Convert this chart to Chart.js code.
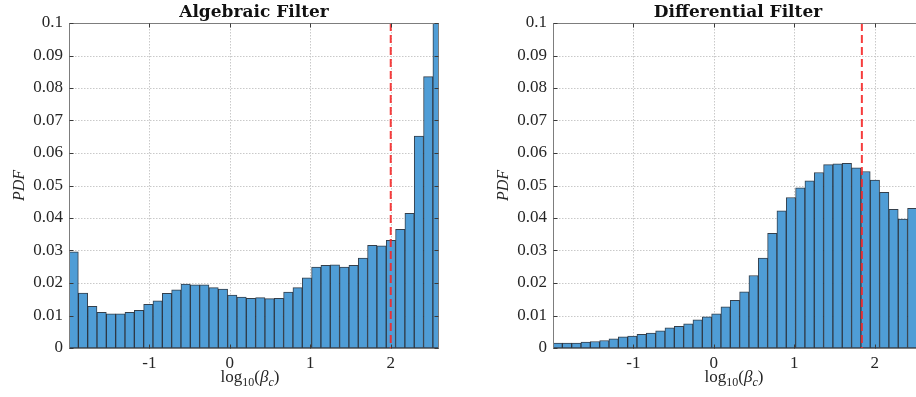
<!DOCTYPE html>
<html>
<head>
<meta charset="utf-8">
<script src="https://cdn.jsdelivr.net/npm/chart.js@4.4.1/dist/chart.umd.min.js"></script>
<style>
  html, body { margin: 0; padding: 0; background: #fff; overflow: hidden; width: 916px; height: 397px; }
  .panel { position: absolute; top: 0; width: 458px; height: 397px; }
  #p1 { left: 0; }
  #p2 { left: 484px; }
  canvas { display: block; }
</style>
</head>
<body>
<div class="panel" id="p1"><canvas id="c1" width="458" height="397"></canvas></div>
<div class="panel" id="p2"><canvas id="c2" width="458" height="397"></canvas></div>
<script>
// Histogram bin edges in log10(beta_c)
const binEdges = [
  -2.000, -1.884, -1.768, -1.652, -1.536, -1.420, -1.304, -1.188, -1.072, -0.956,
  -0.840, -0.724, -0.608, -0.492, -0.376, -0.260, -0.144, -0.028,  0.088,  0.204,
   0.320,  0.436,  0.552,  0.668,  0.784,  0.900,  1.016,  1.132,  1.248,  1.364,
   1.480,  1.596,  1.712,  1.828,  1.944,  2.060,  2.176,  2.292,  2.408,  2.524,
   2.640
];

// Probability density per bin, algebraic filter
const algebraicPdf = [
  0.0296, 0.0169, 0.0128, 0.0110, 0.0105, 0.0105, 0.0110, 0.0116, 0.0134, 0.0145,
  0.0168, 0.0179, 0.0197, 0.0194, 0.0194, 0.0186, 0.0181, 0.0163, 0.0157, 0.0153,
  0.0155, 0.0152, 0.0153, 0.0172, 0.0186, 0.0216, 0.0249, 0.0254, 0.0256, 0.0249,
  0.0254, 0.0277, 0.0316, 0.0314, 0.0331, 0.0365, 0.0414, 0.0652, 0.0835, 0.1000
];

// Probability density per bin, differential filter
const differentialPdf = [
  0.0015, 0.0015, 0.0015, 0.0018, 0.0020, 0.0023, 0.0028, 0.0034, 0.0037, 0.0042,
  0.0046, 0.0053, 0.0062, 0.0067, 0.0074, 0.0087, 0.0096, 0.0105, 0.0127, 0.0147,
  0.0173, 0.0223, 0.0277, 0.0353, 0.0422, 0.0463, 0.0493, 0.0514, 0.0540, 0.0564,
  0.0567, 0.0568, 0.0554, 0.0543, 0.0517, 0.0479, 0.0427, 0.0397, 0.0430
];

// Threshold markers (dashed red lines)
const algebraicThreshold = 2.0;
const differentialThreshold = 1.84;

const xTickValues = [-1, 0, 1, 2];
const xRange = [-2.0, 2.6];
const yRange = [0, 0.1];
const yStep = 0.01;

const panelTitles = ['Algebraic Filter', 'Differential Filter'];
const yAxisTitle = 'PDF';

const SERIF = '"Liberation Serif", "Times New Roman", serif';

// Grid, box, inward tick marks and axis titles drawn on the chart canvas
const framePlugin = {
  id: 'frame',
  beforeDatasetsDraw(chart) {
    const { ctx, chartArea: a, scales: { x, y } } = chart;
    ctx.save();
    ctx.strokeStyle = '#c9c9c9';
    ctx.lineWidth = 1;
    ctx.setLineDash([1.5, 1.5]);
    xTickValues.forEach(v => {
      const px = Math.round(x.getPixelForValue(v)) + 0.5;
      ctx.beginPath(); ctx.moveTo(px, a.top); ctx.lineTo(px, a.bottom); ctx.stroke();
    });
    y.ticks.forEach(t => {
      const py = Math.round(y.getPixelForValue(t.value)) + 0.5;
      ctx.beginPath(); ctx.moveTo(a.left, py); ctx.lineTo(a.right, py); ctx.stroke();
    });
    ctx.restore();
  },
  afterDatasetsDraw(chart, args, opts) {
    const { ctx, chartArea: a, scales: { x, y } } = chart;
    ctx.save();
    // axes box
    ctx.strokeStyle = '#7d7d7d';
    ctx.lineWidth = 1;
    ctx.setLineDash([]);
    const L = Math.round(a.left) + 0.5, R = Math.round(a.right) - 0.5;
    const T = Math.round(a.top) + 0.5, B = Math.round(a.bottom) + 0.5;
    ctx.beginPath();
    ctx.moveTo(L, T); ctx.lineTo(R, T); ctx.lineTo(R, B); ctx.lineTo(L, B); ctx.closePath();
    ctx.stroke();
    // inward tick marks
    ctx.strokeStyle = '#3a3a3a';
    xTickValues.forEach(v => {
      const px = Math.round(x.getPixelForValue(v)) + 0.5;
      ctx.beginPath(); ctx.moveTo(px, B); ctx.lineTo(px, B - 4); ctx.stroke();
      ctx.beginPath(); ctx.moveTo(px, T); ctx.lineTo(px, T + 4); ctx.stroke();
    });
    y.ticks.forEach(t => {
      const py = Math.round(y.getPixelForValue(t.value)) + 0.5;
      ctx.beginPath(); ctx.moveTo(L, py); ctx.lineTo(L + 4, py); ctx.stroke();
      ctx.beginPath(); ctx.moveTo(R, py); ctx.lineTo(R - 4, py); ctx.stroke();
    });
    ctx.restore();
  },
  afterDraw(chart, args, opts) {
    const { ctx, chartArea: a } = chart;
    const cx = (a.left + a.right) / 2;
    const cy = (a.top + a.bottom) / 2;
    ctx.save();
    ctx.fillStyle = '#111';
    // panel title
    ctx.font = 'bold 17px "DejaVu Serif", serif';
    ctx.textAlign = 'center';
    ctx.textBaseline = 'alphabetic';
    ctx.fillText(opts.title, cx, 17);
    // y axis title
    ctx.save();
    ctx.translate(24, cy);
    ctx.rotate(-Math.PI / 2);
    ctx.font = 'italic 16px ' + SERIF;
    ctx.fillStyle = '#262626';
    ctx.fillText(yAxisTitle, 0, 0);
    ctx.restore();
    // x axis title: log10(beta_c) with subscripts
    const parts = [
      { t: 'log', f: '17px ' + SERIF, dy: 0 },
      { t: '10', f: '12px ' + SERIF, dy: 4 },
      { t: '(', f: '17px ' + SERIF, dy: 0 },
      { t: '\u03B2', f: 'italic 17px ' + SERIF, dy: 0 },
      { t: 'c', f: 'italic 12px ' + SERIF, dy: 4 },
      { t: ')', f: '17px ' + SERIF, dy: 0 }
    ];
    let total = 0;
    parts.forEach(p => { ctx.font = p.f; p.w = ctx.measureText(p.t).width; total += p.w; });
    let xp = cx - 4 - total / 2;
    ctx.textAlign = 'left';
    ctx.fillStyle = '#262626';
    parts.forEach(p => { ctx.font = p.f; ctx.fillText(p.t, xp, 382 + p.dy); xp += p.w; });
    ctx.restore();
  }
};

function makeChart(canvasId, values, threshold, title) {
  const bars = values.map((v, i) => ({ x: (binEdges[i] + binEdges[i + 1]) / 2, y: v }));
  return new Chart(document.getElementById(canvasId), {
    type: 'bar',
    data: {
      datasets: [
        {
          type: 'line',
          data: [{ x: threshold, y: yRange[1] }, { x: threshold, y: yRange[0] }],
          borderColor: 'rgba(245, 40, 40, 0.9)',
          borderWidth: 2,
          borderDash: [8, 4],
          pointRadius: 0,
          order: 0
        },
        {
          type: 'bar',
          data: bars,
          backgroundColor: '#4f9dd6',
          borderColor: 'rgba(30, 42, 55, 0.9)',
          borderWidth: 1,
          borderSkipped: false,
          barPercentage: 1,
          categoryPercentage: 1,
          clip: 0,
          order: 1
        }
      ]
    },
    options: {
      responsive: false,
      animation: false,
      devicePixelRatio: 1,
      layout: { padding: { top: 23, right: 19, left: 0, bottom: 0 } },
      plugins: {
        legend: { display: false },
        tooltip: { enabled: false },
        frame: { title: title }
      },
      scales: {
        x: {
          type: 'linear',
          offset: false,
          min: xRange[0],
          max: xRange[1],
          grid: { display: false, drawTicks: false, offset: false },
          border: { display: false },
          afterBuildTicks(s) { s.ticks = xTickValues.map(v => ({ value: v })); },
          afterFit(s) { s.height = 49; },
          ticks: {
            padding: 5,
            maxRotation: 0,
            color: '#262626',
            font: { family: SERIF, size: 17 },
            callback: v => String(v)
          }
        },
        y: {
          min: yRange[0],
          max: yRange[1],
          grid: { display: false, drawTicks: false },
          border: { display: false },
          afterFit(s) { s.width = 69; },
          ticks: {
            stepSize: yStep,
            padding: 6,
            color: '#262626',
            font: { family: SERIF, size: 17 },
            callback: v => String(Math.round(v * 100) / 100)
          }
        }
      }
    },
    plugins: [framePlugin]
  });
}

makeChart('c1', algebraicPdf, algebraicThreshold, panelTitles[0]);
makeChart('c2', differentialPdf, differentialThreshold, panelTitles[1]);
</script>
</body>
</html>
